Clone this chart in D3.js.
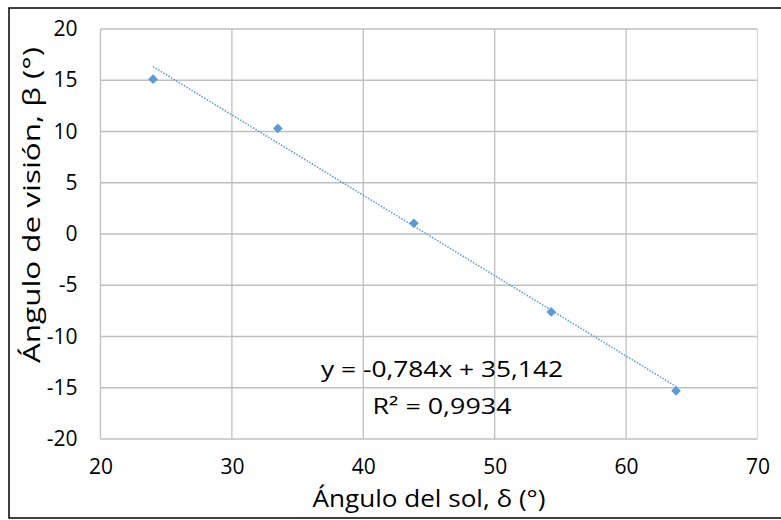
<!DOCTYPE html>
<html><head><meta charset="utf-8">
<script src="https://cdn.jsdelivr.net/npm/d3@7/dist/d3.min.js"></script>
<style>body{margin:0;background:#fff}svg{display:block}text{font-family:"Open Sans","Noto Sans",sans-serif;fill:#000}</style>
</head><body>
<svg id="c" width="781" height="520"></svg>
<script>
const sunAngle = [24.0, 33.5, 43.85, 54.3, 63.8];
const viewAngle = [15.1, 10.3, 1.05, -7.6, -15.3];
const xTicks = [20, 30, 40, 50, 60, 70];
const yTicks = [20, 15, 10, 5, 0, -5, -10, -15, -20];
const slope = -0.784, intercept = 35.142;
const eqLabel = "y = -0,784x + 35,142";
const r2Label = "R² = 0,9934";
const xTitle = "Ángulo del sol, δ (°)";
const yTitle = "Ángulo de visión, β (°)";

const svg = d3.select("#c");
const L = 100.5, R = 757.5, T = 29, B = 439;
const x = d3.scaleLinear().domain([20, 70]).range([L, R]);
const y = d3.scaleLinear().domain([-20, 20]).range([B, T]);

svg.append("rect").attr("x", 9).attr("y", 8).attr("width", 790).attr("height", 510)
  .attr("fill", "#fff").attr("stroke", "#000").attr("stroke-width", 1.5);

// gridlines
svg.append("g").selectAll("line").data(yTicks).join("line")
  .attr("x1", L).attr("x2", R).attr("y1", d => y(d)).attr("y2", d => y(d))
  .attr("stroke", "#bfbfbf").attr("stroke-width", 1.3);
svg.append("g").selectAll("line").data(xTicks).join("line")
  .attr("y1", T).attr("y2", B).attr("x1", d => x(d)).attr("x2", d => x(d))
  .attr("stroke", d => d === 70 ? "#d9d9d9" : "#bfbfbf").attr("stroke-width", 1.3);

const fmt = d => String(d);
const xAxis = svg.append("g").attr("transform", `translate(0,${B})`)
  .call(d3.axisBottom(x).tickValues(xTicks).tickSize(0).tickPadding(20).tickFormat(fmt));
xAxis.select(".domain").remove();
xAxis.selectAll("text").attr("font-size", 21).attr("font-family", "Open Sans");

const yAxis = svg.append("g").attr("transform", `translate(${L},0)`)
  .call(d3.axisLeft(y).tickValues(yTicks).tickSize(0).tickPadding(23).tickFormat(fmt));
yAxis.select(".domain").remove();
yAxis.selectAll("text").attr("font-size", 21).attr("font-family", "Open Sans");

// trendline
const x0 = d3.min(sunAngle), x1 = d3.max(sunAngle);
svg.append("line")
  .attr("x1", x(x0)).attr("y1", y(slope * x0 + intercept))
  .attr("x2", x(x1)).attr("y2", y(slope * x1 + intercept))
  .attr("stroke", "#5b9bd5").attr("stroke-width", 1.6).attr("stroke-dasharray", "1.5,1.5");

// points
svg.append("g").selectAll("path").data(sunAngle.map((d, i) => [d, viewAngle[i]])).join("path")
  .attr("d", d3.symbol(d3.symbolDiamond2, 60))
  .attr("transform", d => `translate(${x(d[0])},${y(d[1])})`)
  .attr("fill", "#5b9bd5");

// equation
svg.append("text").attr("x", 442).attr("y", 377).attr("text-anchor", "middle").attr("font-size", 22)
  .attr("textLength", 242).attr("lengthAdjust", "spacingAndGlyphs").text(eqLabel);
svg.append("text").attr("x", 442).attr("y", 414).attr("text-anchor", "middle").attr("font-size", 22)
  .attr("textLength", 139).attr("lengthAdjust", "spacingAndGlyphs").text(r2Label);

// titles
svg.append("text").attr("x", 429).attr("y", 507).attr("text-anchor", "middle").attr("font-size", 23)
  .attr("textLength", 233).attr("lengthAdjust", "spacingAndGlyphs").text(xTitle);
svg.append("text").attr("transform", "translate(40,205) rotate(-90)").attr("text-anchor", "middle").attr("font-size", 23)
  .attr("textLength", 316).attr("lengthAdjust", "spacingAndGlyphs").text(yTitle);
</script>
</body></html>
